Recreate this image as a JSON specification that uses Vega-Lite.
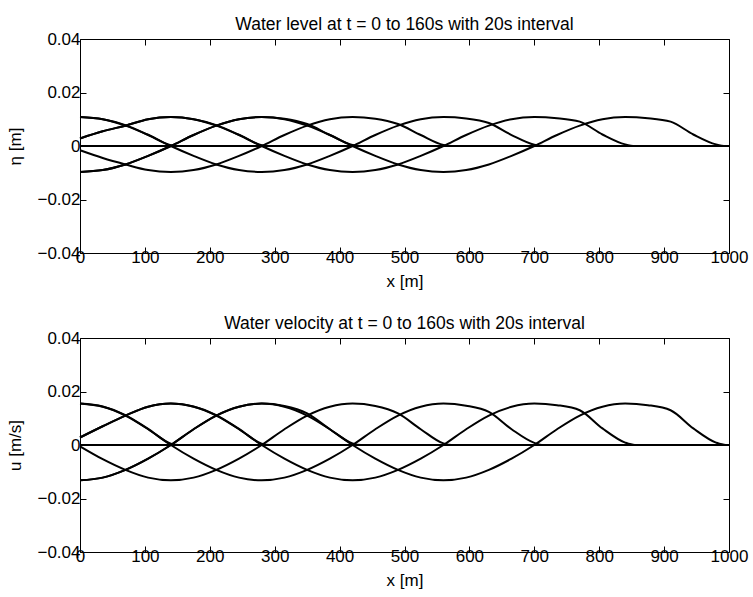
{
  "$schema": "https://vega.github.io/schema/vega-lite/v6.json",
  "background": "white",
  "padding": {"left": 6, "top": 15, "right": 1, "bottom": 2},
  "bounds": "flush",
  "spacing": 85,
  "config": {
    "view": {"stroke": "black", "strokeWidth": 1},
    "font": "Liberation Sans",
    "axis": {"domain": false, "grid": false, "tickColor": "black", "tickSize": -6, "tickWidth": 1, "labelColor": "black", "labelFontSize": 17, "labelFont": "Liberation Sans", "titleFont": "Liberation Sans", "titleFontSize": 17, "titleFontWeight": "normal", "titleColor": "black", "labelPadding": 6, "labelFlush": false, "labelOverlap": false},
    "axisX": {"labelPadding": 2, "titlePadding": 8},
    "axisY": {"titlePadding": 12},
    "title": {"fontSize": 17.5, "fontWeight": "normal", "font": "Liberation Sans", "color": "black", "offset": -3}
  },
  "datasets": {
    "eta": [
      {"t":0,"x":0,"y":0},{"t":0,"x":1000,"y":0},
      {"t":1,"x":0,"y":0.0108},{"t":1,"x":35,"y":0.0100},{"t":1,"x":70,"y":0.0078},{"t":1,"x":105,"y":0.0042},{"t":1,"x":140,"y":0.0003},{"t":1,"x":152,"y":0},{"t":1,"x":1000,"y":0},
      {"t":2,"x":0,"y":0.0028},{"t":2,"x":35,"y":0.0055},{"t":2,"x":70,"y":0.0076},{"t":2,"x":105,"y":0.0100},{"t":2,"x":140,"y":0.0108},{"t":2,"x":175,"y":0.0100},{"t":2,"x":210,"y":0.0078},{"t":2,"x":245,"y":0.0042},{"t":2,"x":280,"y":0.0003},{"t":2,"x":292,"y":0},{"t":2,"x":1000,"y":0},
      {"t":3,"x":0,"y":-0.0097},{"t":3,"x":35,"y":-0.0090},{"t":3,"x":70,"y":-0.0069},{"t":3,"x":105,"y":-0.0037},{"t":3,"x":140,"y":0},{"t":3,"x":175,"y":0.0041},{"t":3,"x":210,"y":0.0076},{"t":3,"x":245,"y":0.0100},{"t":3,"x":280,"y":0.0108},{"t":3,"x":315,"y":0.0102},{"t":3,"x":350,"y":0.0082},{"t":3,"x":385,"y":0.0041},{"t":3,"x":420,"y":0.0004},{"t":3,"x":433,"y":0},{"t":3,"x":1000,"y":0},
      {"t":4,"x":0,"y":-0.0016},{"t":4,"x":35,"y":-0.0045},{"t":4,"x":70,"y":-0.0069},{"t":4,"x":105,"y":-0.0090},{"t":4,"x":140,"y":-0.0097},{"t":4,"x":175,"y":-0.0090},{"t":4,"x":210,"y":-0.0069},{"t":4,"x":245,"y":-0.0037},{"t":4,"x":280,"y":0},{"t":4,"x":315,"y":0.0041},{"t":4,"x":350,"y":0.0076},{"t":4,"x":385,"y":0.0100},{"t":4,"x":420,"y":0.0108},{"t":4,"x":455,"y":0.0102},{"t":4,"x":490,"y":0.0082},{"t":4,"x":525,"y":0.0041},{"t":4,"x":560,"y":0.0004},{"t":4,"x":573,"y":0},{"t":4,"x":1000,"y":0},
      {"t":5,"x":0,"y":0.0108},{"t":5,"x":35,"y":0.0100},{"t":5,"x":70,"y":0.0076},{"t":5,"x":105,"y":0.0041},{"t":5,"x":140,"y":0},{"t":5,"x":175,"y":-0.0037},{"t":5,"x":210,"y":-0.0069},{"t":5,"x":245,"y":-0.0090},{"t":5,"x":280,"y":-0.0097},{"t":5,"x":315,"y":-0.0090},{"t":5,"x":350,"y":-0.0069},{"t":5,"x":385,"y":-0.0037},{"t":5,"x":420,"y":0},{"t":5,"x":455,"y":0.0041},{"t":5,"x":490,"y":0.0076},{"t":5,"x":525,"y":0.0100},{"t":5,"x":560,"y":0.0108},{"t":5,"x":595,"y":0.0103},{"t":5,"x":630,"y":0.0086},{"t":5,"x":665,"y":0.0041},{"t":5,"x":700,"y":0.0005},{"t":5,"x":714,"y":0},{"t":5,"x":1000,"y":0},
      {"t":6,"x":0,"y":0.0028},{"t":6,"x":35,"y":0.0055},{"t":6,"x":70,"y":0.0076},{"t":6,"x":105,"y":0.0100},{"t":6,"x":140,"y":0.0108},{"t":6,"x":175,"y":0.0100},{"t":6,"x":210,"y":0.0076},{"t":6,"x":245,"y":0.0041},{"t":6,"x":280,"y":0},{"t":6,"x":315,"y":-0.0037},{"t":6,"x":350,"y":-0.0069},{"t":6,"x":385,"y":-0.0090},{"t":6,"x":420,"y":-0.0097},{"t":6,"x":455,"y":-0.0090},{"t":6,"x":490,"y":-0.0069},{"t":6,"x":525,"y":-0.0037},{"t":6,"x":560,"y":0},{"t":6,"x":595,"y":0.0041},{"t":6,"x":630,"y":0.0076},{"t":6,"x":665,"y":0.0100},{"t":6,"x":700,"y":0.0108},{"t":6,"x":735,"y":0.0104},{"t":6,"x":770,"y":0.0091},{"t":6,"x":805,"y":0.0043},{"t":6,"x":840,"y":0.0006},{"t":6,"x":855,"y":0},{"t":6,"x":1000,"y":0},
      {"t":7,"x":0,"y":-0.0097},{"t":7,"x":35,"y":-0.0090},{"t":7,"x":70,"y":-0.0069},{"t":7,"x":105,"y":-0.0037},{"t":7,"x":140,"y":0},{"t":7,"x":175,"y":0.0041},{"t":7,"x":210,"y":0.0076},{"t":7,"x":245,"y":0.0100},{"t":7,"x":280,"y":0.0108},{"t":7,"x":315,"y":0.0100},{"t":7,"x":350,"y":0.0076},{"t":7,"x":385,"y":0.0041},{"t":7,"x":420,"y":0},{"t":7,"x":455,"y":-0.0037},{"t":7,"x":490,"y":-0.0069},{"t":7,"x":525,"y":-0.0090},{"t":7,"x":560,"y":-0.0097},{"t":7,"x":595,"y":-0.0090},{"t":7,"x":630,"y":-0.0069},{"t":7,"x":665,"y":-0.0037},{"t":7,"x":700,"y":0},{"t":7,"x":735,"y":0.0041},{"t":7,"x":770,"y":0.0076},{"t":7,"x":805,"y":0.0100},{"t":7,"x":840,"y":0.0108},{"t":7,"x":875,"y":0.0104},{"t":7,"x":910,"y":0.0091},{"t":7,"x":945,"y":0.0043},{"t":7,"x":980,"y":0.0006},{"t":7,"x":995,"y":0},{"t":7,"x":1000,"y":0}
    ],
    "u": [
      {"t":0,"x":0,"y":0},{"t":0,"x":1000,"y":0},
      {"t":1,"x":0,"y":0.0155},{"t":1,"x":35,"y":0.0144},{"t":1,"x":70,"y":0.0112},{"t":1,"x":105,"y":0.0060},{"t":1,"x":140,"y":0.0005},{"t":1,"x":152,"y":0},{"t":1,"x":1000,"y":0},
      {"t":2,"x":0,"y":0.0028},{"t":2,"x":35,"y":0.0070},{"t":2,"x":70,"y":0.0110},{"t":2,"x":105,"y":0.0143},{"t":2,"x":140,"y":0.0155},{"t":2,"x":175,"y":0.0144},{"t":2,"x":210,"y":0.0112},{"t":2,"x":245,"y":0.0060},{"t":2,"x":280,"y":0.0005},{"t":2,"x":292,"y":0},{"t":2,"x":1000,"y":0},
      {"t":3,"x":0,"y":-0.0132},{"t":3,"x":35,"y":-0.0122},{"t":3,"x":70,"y":-0.0093},{"t":3,"x":105,"y":-0.0051},{"t":3,"x":140,"y":0},{"t":3,"x":175,"y":0.0059},{"t":3,"x":210,"y":0.0110},{"t":3,"x":245,"y":0.0143},{"t":3,"x":280,"y":0.0155},{"t":3,"x":315,"y":0.0146},{"t":3,"x":350,"y":0.0118},{"t":3,"x":385,"y":0.0059},{"t":3,"x":420,"y":0.0006},{"t":3,"x":433,"y":0},{"t":3,"x":1000,"y":0},
      {"t":4,"x":0,"y":-0.0005},{"t":4,"x":35,"y":-0.0053},{"t":4,"x":70,"y":-0.0093},{"t":4,"x":105,"y":-0.0122},{"t":4,"x":140,"y":-0.0132},{"t":4,"x":175,"y":-0.0122},{"t":4,"x":210,"y":-0.0093},{"t":4,"x":245,"y":-0.0051},{"t":4,"x":280,"y":0},{"t":4,"x":315,"y":0.0059},{"t":4,"x":350,"y":0.0110},{"t":4,"x":385,"y":0.0143},{"t":4,"x":420,"y":0.0155},{"t":4,"x":455,"y":0.0146},{"t":4,"x":490,"y":0.0118},{"t":4,"x":525,"y":0.0059},{"t":4,"x":560,"y":0.0006},{"t":4,"x":573,"y":0},{"t":4,"x":1000,"y":0},
      {"t":5,"x":0,"y":0.0155},{"t":5,"x":35,"y":0.0143},{"t":5,"x":70,"y":0.0110},{"t":5,"x":105,"y":0.0059},{"t":5,"x":140,"y":0},{"t":5,"x":175,"y":-0.0051},{"t":5,"x":210,"y":-0.0093},{"t":5,"x":245,"y":-0.0122},{"t":5,"x":280,"y":-0.0132},{"t":5,"x":315,"y":-0.0122},{"t":5,"x":350,"y":-0.0093},{"t":5,"x":385,"y":-0.0051},{"t":5,"x":420,"y":0},{"t":5,"x":455,"y":0.0059},{"t":5,"x":490,"y":0.0110},{"t":5,"x":525,"y":0.0143},{"t":5,"x":560,"y":0.0155},{"t":5,"x":595,"y":0.0147},{"t":5,"x":630,"y":0.0124},{"t":5,"x":665,"y":0.0059},{"t":5,"x":700,"y":0.0008},{"t":5,"x":714,"y":0},{"t":5,"x":1000,"y":0},
      {"t":6,"x":0,"y":0.0028},{"t":6,"x":35,"y":0.0070},{"t":6,"x":70,"y":0.0110},{"t":6,"x":105,"y":0.0143},{"t":6,"x":140,"y":0.0155},{"t":6,"x":175,"y":0.0143},{"t":6,"x":210,"y":0.0110},{"t":6,"x":245,"y":0.0059},{"t":6,"x":280,"y":0},{"t":6,"x":315,"y":-0.0051},{"t":6,"x":350,"y":-0.0093},{"t":6,"x":385,"y":-0.0122},{"t":6,"x":420,"y":-0.0132},{"t":6,"x":455,"y":-0.0122},{"t":6,"x":490,"y":-0.0093},{"t":6,"x":525,"y":-0.0051},{"t":6,"x":560,"y":0},{"t":6,"x":595,"y":0.0059},{"t":6,"x":630,"y":0.0110},{"t":6,"x":665,"y":0.0143},{"t":6,"x":700,"y":0.0155},{"t":6,"x":735,"y":0.0149},{"t":6,"x":770,"y":0.0130},{"t":6,"x":805,"y":0.0062},{"t":6,"x":840,"y":0.0009},{"t":6,"x":855,"y":0},{"t":6,"x":1000,"y":0},
      {"t":7,"x":0,"y":-0.0132},{"t":7,"x":35,"y":-0.0122},{"t":7,"x":70,"y":-0.0093},{"t":7,"x":105,"y":-0.0051},{"t":7,"x":140,"y":0},{"t":7,"x":175,"y":0.0059},{"t":7,"x":210,"y":0.0110},{"t":7,"x":245,"y":0.0143},{"t":7,"x":280,"y":0.0155},{"t":7,"x":315,"y":0.0143},{"t":7,"x":350,"y":0.0110},{"t":7,"x":385,"y":0.0059},{"t":7,"x":420,"y":0},{"t":7,"x":455,"y":-0.0051},{"t":7,"x":490,"y":-0.0093},{"t":7,"x":525,"y":-0.0122},{"t":7,"x":560,"y":-0.0132},{"t":7,"x":595,"y":-0.0122},{"t":7,"x":630,"y":-0.0093},{"t":7,"x":665,"y":-0.0051},{"t":7,"x":700,"y":0},{"t":7,"x":735,"y":0.0059},{"t":7,"x":770,"y":0.0110},{"t":7,"x":805,"y":0.0143},{"t":7,"x":840,"y":0.0155},{"t":7,"x":875,"y":0.0149},{"t":7,"x":910,"y":0.0130},{"t":7,"x":945,"y":0.0062},{"t":7,"x":980,"y":0.0009},{"t":7,"x":995,"y":0},{"t":7,"x":1000,"y":0}
    ]
  },
  "vconcat": [
    {
      "width": 649, "height": 214,
      "title": {"text": "Water level at t = 0 to 160s with 20s interval"},
      "data": {"name": "eta"},
      "layer": [
        {
          "mark": {"type": "line", "color": "black", "strokeWidth": 2, "interpolate": "monotone"},
          "encoding": {
            "x": {"field": "x", "type": "quantitative", "scale": {"domain": [0, 1000], "nice": false}, "axis": {"orient": "bottom", "title": "x [m]", "values": [0,100,200,300,400,500,600,700,800,900,1000], "format": "d"}},
            "y": {"field": "y", "type": "quantitative", "scale": {"domain": [-0.04, 0.04], "nice": false, "zero": false}, "axis": {"orient": "left", "title": "η [m]", "values": [-0.04,-0.02,0,0.02,0.04], "format": ".2~f"}},
            "detail": {"field": "t"}
          }
        },
        {
          "mark": {"type": "line", "opacity": 0},
          "encoding": {
            "x": {"field": "x", "type": "quantitative", "axis": {"orient": "top", "labels": false, "title": null, "values": [0,100,200,300,400,500,600,700,800,900,1000]}},
            "y": {"field": "y", "type": "quantitative", "axis": {"orient": "right", "labels": false, "title": null, "values": [-0.04,-0.02,0,0.02,0.04]}},
            "detail": {"field": "t"}
          }
        }
      ],
      "resolve": {"axis": {"x": "independent", "y": "independent"}}
    },
    {
      "width": 649, "height": 214,
      "title": {"text": "Water velocity at t = 0 to 160s with 20s interval"},
      "data": {"name": "u"},
      "layer": [
        {
          "mark": {"type": "line", "color": "black", "strokeWidth": 2, "interpolate": "monotone"},
          "encoding": {
            "x": {"field": "x", "type": "quantitative", "scale": {"domain": [0, 1000], "nice": false}, "axis": {"orient": "bottom", "title": "x [m]", "values": [0,100,200,300,400,500,600,700,800,900,1000], "format": "d"}},
            "y": {"field": "y", "type": "quantitative", "scale": {"domain": [-0.04, 0.04], "nice": false, "zero": false}, "axis": {"orient": "left", "title": "u [m/s]", "values": [-0.04,-0.02,0,0.02,0.04], "format": ".2~f"}},
            "detail": {"field": "t"}
          }
        },
        {
          "mark": {"type": "line", "opacity": 0},
          "encoding": {
            "x": {"field": "x", "type": "quantitative", "axis": {"orient": "top", "labels": false, "title": null, "values": [0,100,200,300,400,500,600,700,800,900,1000]}},
            "y": {"field": "y", "type": "quantitative", "axis": {"orient": "right", "labels": false, "title": null, "values": [-0.04,-0.02,0,0.02,0.04]}},
            "detail": {"field": "t"}
          }
        }
      ],
      "resolve": {"axis": {"x": "independent", "y": "independent"}}
    }
  ]
}
